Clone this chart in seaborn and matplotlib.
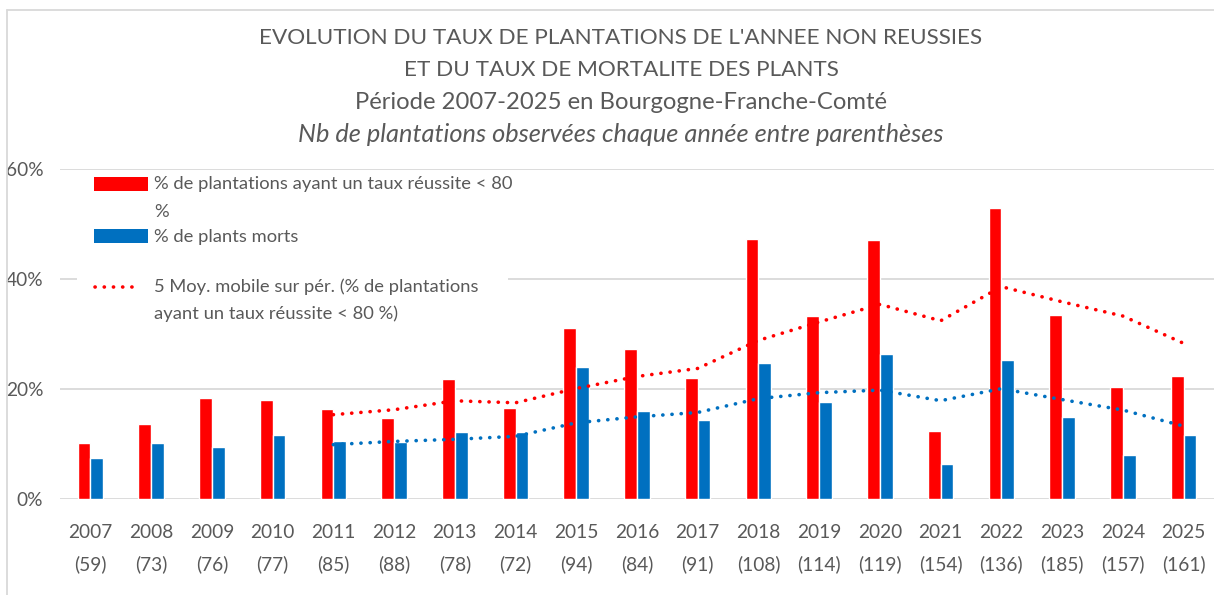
import numpy as np
import pandas as pd
import matplotlib
matplotlib.use("Agg")
import matplotlib.pyplot as plt
import seaborn as sns
from matplotlib.patches import Rectangle
from matplotlib.lines import Line2D

# data
years = [str(y) for y in range(2007, 2026)]
n_obs = [59, 73, 76, 77, 85, 88, 78, 72, 94, 84, 91, 108, 114, 119, 154, 136, 185, 157, 161]
pct_failed = [10.2, 13.7, 18.4, 18.1, 16.4, 14.7, 21.8, 16.6, 31.1, 27.3,
              22.0, 47.3, 33.3, 47.1, 12.4, 53.0, 33.5, 20.4, 22.3]
pct_dead = [7.5, 10.3, 9.5, 11.7, 10.6, 10.4, 12.2, 12.2, 24.0, 16.0,
            14.4, 24.8, 17.6, 26.3, 6.4, 25.3, 14.9, 8.1, 11.7]

lab_failed = ["% de plantations ayant un taux réussite < 80", "%"]
lab_dead = ["% de plants morts"]
lab_ma = ["5 Moy. mobile sur pér. (% de plantations", "ayant un taux réussite < 80 %)"]

RED = "#FF0000"
BLUE = "#0070C0"
GREY = "#595959"
GRID = "#D9D9D9"
W, H = 1214, 595

sns.set_theme(style="white")
plt.rcParams["font.family"] = ["Lato", "DejaVu Sans"]

df = pd.DataFrame({
    "year": years * 2,
    "value": pct_failed + pct_dead,
    "serie": ["failed"] * len(years) + ["dead"] * len(years),
})

# 5-period moving averages (trendlines of the original chart)
ma_failed = pd.Series(pct_failed).rolling(5).mean()
ma_dead = pd.Series(pct_dead).rolling(5).mean()


def fx(px):
    return px / W


def fy(py):
    return 1 - py / H


DOTS = (0, (0.05, 2.5))

fig = plt.figure(figsize=(12.14, 5.95), dpi=100)
ax = fig.add_axes([0.0494, 0.161, 0.9506, 0.555])

sns.barplot(data=df, x="year", y="value", hue="serie", hue_order=["failed", "dead"],
            palette={"failed": RED, "dead": BLUE}, width=0.42, gap=0,
            saturation=1, legend=False, ax=ax)

idx = np.arange(len(years))
sns.lineplot(x=idx, y=ma_failed.values, color=RED, lw=2.6, ax=ax)
sns.lineplot(x=idx, y=ma_dead.values, color=BLUE, lw=2.6, ax=ax)
for ln in ax.lines:
    ln.set_linestyle(DOTS)
    ln.set_dash_capstyle("round")

ax.set_ylim(0, 60)
ax.set_xlim(-0.5, len(years) - 0.5)
ax.set_yticks([0, 20, 40, 60])
ax.set_yticklabels(["0%", "20%", "40%", "60%"])
ax.set_xticks(idx)
ax.set_xticklabels([f"{y}\n({n})" for y, n in zip(years, n_obs)], linespacing=1.95)
ax.tick_params(axis="both", colors=GREY, labelsize=13.8, length=0)
ax.tick_params(axis="x", pad=18)
ax.tick_params(axis="y", pad=12)
ax.set_xlabel("")
ax.set_ylabel("")
ax.yaxis.grid(True, color=GRID, lw=1.3)
ax.set_axisbelow(True)
for s in ax.spines.values():
    s.set_visible(False)

# legend, laid out like the original (handles aligned with the first text line)
fig.add_artist(Rectangle((fx(77), fy(326)), fx(508) - fx(77), fy(173) - fy(326),
                         transform=fig.transFigure, facecolor="white", edgecolor="none", zorder=3))
fig.add_artist(Rectangle((fx(94), fy(191)), fx(148) - fx(94), fy(177) - fy(191),
                         transform=fig.transFigure, facecolor=RED, edgecolor="none", zorder=4))
fig.add_artist(Rectangle((fx(94), fy(243)), fx(148) - fx(94), fy(229) - fy(243),
                         transform=fig.transFigure, facecolor=BLUE, edgecolor="none", zorder=4))
fig.add_artist(Line2D([fx(95), fx(140)], [fy(287), fy(287)], color=RED, lw=2.6,
                      linestyle=DOTS, dash_capstyle="round", transform=fig.transFigure, zorder=4))
legend_rows = [(lab_failed[0], 184), (lab_failed[1], 212), (lab_dead[0], 237),
               (lab_ma[0], 287), (lab_ma[1], 314)]
for txt, py in legend_rows:
    fig.text(fx(154), fy(py), txt, ha="left", va="center", fontsize=13.2, color=GREY, zorder=5)

title_lines = [
    ("EVOLUTION DU TAUX DE PLANTATIONS DE L'ANNEE NON REUSSIES", "normal", 16.2, 38),
    ("ET DU TAUX DE MORTALITE DES PLANTS", "normal", 16.2, 70),
    ("Période 2007-2025 en Bourgogne-Franche-Comté", "normal", 17.2, 102),
    ("Nb de plantations observées chaque année entre parenthèses", "italic", 18.3, 134),
]
for txt, style, size, py in title_lines:
    fig.text(fx(621), fy(py), txt, ha="center", va="center", fontsize=size, color=GREY, style=style)

# outer chart frame (only top and left visible in the crop)
fig.add_artist(Line2D([fx(7), 1], [fy(9.5)] * 2, color=GRID, lw=1.3, transform=fig.transFigure))
fig.add_artist(Line2D([fx(7)] * 2, [0, fy(9.5)], color=GRID, lw=1.3, transform=fig.transFigure))

fig.savefig("out.png", dpi=100)
